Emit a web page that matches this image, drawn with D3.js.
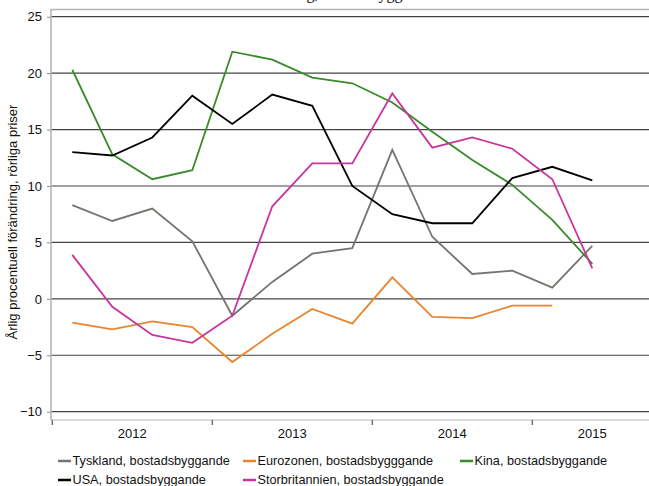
<!DOCTYPE html>
<html>
<head>
<meta charset="utf-8">
<script src="https://cdn.jsdelivr.net/npm/d3@7"></script>
<style>
  body { margin: 0; background: #fff; }
  svg { display: block; font-family: "Liberation Sans", Arial, sans-serif; }
</style>
</head>
<body>
<div id="chart"></div>
<script>
// kvartal 2012 Q1 - 2015 Q3 (sista kvartalet tomt)
const quarters = ["2012K1","2012K2","2012K3","2012K4","2013K1","2013K2","2013K3","2013K4",
                  "2014K1","2014K2","2014K3","2014K4","2015K1","2015K2","2015K3"];
const years = ["2012", "2013", "2014", "2015"];
const yTicks = [-10, -5, 0, 5, 10, 15, 20, 25];

const tyskland   = [8.3, 6.9, 8.0, 5.1, -1.5, 1.5, 4.0, 4.5, 13.2, 5.5, 2.2, 2.5, 1.0, 4.7];
const eurozonen  = [-2.1, -2.7, -2.0, -2.5, -5.6, -3.1, -0.9, -2.2, 1.9, -1.6, -1.7, -0.6, -0.6];
const kina       = [20.3, 12.8, 10.6, 11.4, 21.9, 21.2, 19.6, 19.1, 17.4, 14.8, 12.3, 10.1, 7.0, 3.1];
const usa        = [13.0, 12.7, 14.3, 18.0, 15.5, 18.1, 17.1, 10.0, 7.5, 6.7, 6.7, 10.7, 11.7, 10.5];
const storbrit   = [3.9, -0.7, -3.2, -3.9, -1.5, 8.2, 12.0, 12.0, 18.2, 13.4, 14.3, 13.3, 10.6, 2.7];

const series = [
  { name: "Tyskland, bostadsbyggande", values: tyskland, color: "#77746f" },
  { name: "Eurozonen, bostadsbygggande", values: eurozonen, color: "#e8852e" },
  { name: "Kina, bostadsbyggande", values: kina, color: "#3a8a2a" },
  { name: "USA, bostadsbyggande", values: usa, color: "#000000" },
  { name: "Storbritannien, bostadsbyggande", values: storbrit, color: "#c8359c" }
];

const width = 649, height = 486;
const plotLeft = 51, plotTop = 9, axisY = 420;

const svg = d3.select("#chart").append("svg")
  .attr("width", width)
  .attr("height", height);

const x = d3.scaleBand().domain(quarters).range([52.3, 652.3]);
const y = d3.scaleLinear().domain([-10, 25]).range([411.7, 16.7]);

// titel (avklippt upptill, som i originalet)
svg.append("text")
  .attr("x", 338).attr("y", -1.5)
  .attr("text-anchor", "middle")
  .style("font-family", "'Liberation Serif', serif")
  .style("font-size", "16px")
  .text("Utveckling, bostadsbyggande");

// ram
svg.append("line")
  .attr("x1", plotLeft).attr("x2", width).attr("y1", plotTop + 0.5).attr("y2", plotTop + 0.5)
  .attr("stroke", "#b5b5b5").attr("stroke-width", 1.5);

// stödlinjer
svg.append("g")
  .selectAll("line")
  .data(yTicks)
  .join("line")
  .attr("x1", plotLeft).attr("x2", width)
  .attr("y1", d => y(d)).attr("y2", d => y(d))
  .attr("stroke", "#444").attr("stroke-width", 1.2);

// y-axel
const yAxis = svg.append("g")
  .attr("transform", `translate(${plotLeft},0)`)
  .call(d3.axisLeft(y).tickValues(yTicks).tickSize(4).tickPadding(5));
yAxis.select(".domain").remove();
yAxis.selectAll(".tick line").attr("stroke", "#888");
yAxis.selectAll(".tick text")
  .style("font-size", "13px")
  .style("font-family", "'Liberation Sans', Arial, sans-serif")
  .attr("fill", "#111");

svg.append("line")
  .attr("x1", plotLeft).attr("x2", plotLeft).attr("y1", plotTop).attr("y2", axisY)
  .attr("stroke", "#b0b0b0").attr("stroke-width", 1.5);

// x-axel
svg.append("line")
  .attr("x1", plotLeft).attr("x2", width).attr("y1", axisY).attr("y2", axisY)
  .attr("stroke", "#b8b8b8").attr("stroke-width", 1.2);

const yearStarts = quarters.filter((q, i) => i % 4 === 0);
svg.append("g")
  .selectAll("line")
  .data(yearStarts)
  .join("line")
  .attr("x1", d => x(d)).attr("x2", d => x(d))
  .attr("y1", axisY).attr("y2", axisY + 5)
  .attr("stroke", "#555").attr("stroke-width", 1.2);

svg.append("g")
  .selectAll("text")
  .data(years)
  .join("text")
  .attr("x", d => {
    const qs = quarters.filter(q => q.startsWith(d));
    return (x(qs[0]) + x(qs[qs.length - 1]) + x.bandwidth()) / 2;
  })
  .attr("y", 438)
  .attr("text-anchor", "middle")
  .style("font-size", "13px")
  .attr("fill", "#111")
  .text(d => d);

// y-axeltitel
svg.append("text")
  .attr("transform", "translate(17,222) rotate(-90)")
  .attr("text-anchor", "middle")
  .style("font-size", "13px")
  .attr("fill", "#111")
  .text("Årlig procentuell förändring, rörliga priser");

// linjer
const line = d3.line()
  .x((d, i) => x(quarters[i]) + x.bandwidth() / 2)
  .y(d => y(d));

svg.append("g")
  .selectAll("path")
  .data(series)
  .join("path")
  .attr("d", d => line(d.values))
  .attr("fill", "none")
  .attr("stroke", d => d.color)
  .attr("stroke-width", 1.8)
  .attr("stroke-linejoin", "miter");

// teckenförklaring
const legendCols = [58, 243, 460];
const legend = svg.append("g")
  .selectAll("g")
  .data(series)
  .join("g")
  .attr("transform", (d, i) => `translate(${legendCols[i % 3]},${i < 3 ? 461 : 480})`);

legend.append("line")
  .attr("x1", 0).attr("x2", 13)
  .attr("stroke", d => d.color)
  .attr("stroke-width", 2.5);

legend.append("text")
  .attr("x", 14.5)
  .attr("dy", "0.35em")
  .style("font-size", "12.7px")
  .attr("fill", "#111")
  .text(d => d.name);
</script>
</body>
</html>
